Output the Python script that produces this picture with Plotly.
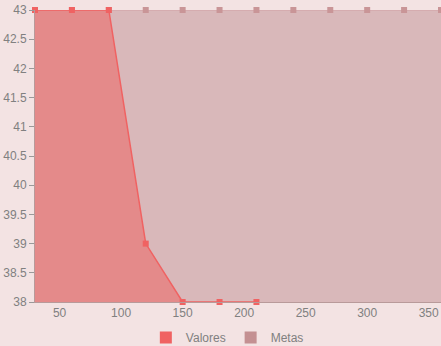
import plotly.graph_objects as go

x_valores = [30, 60, 90, 120, 150, 180, 210]
valores = [43, 43, 43, 39, 38, 38, 38]
x_metas = [30, 60, 90, 120, 150, 180, 210, 240, 270, 300, 330, 360]
metas = [43, 43, 43, 43, 43, 43, 43, 43, 43, 43, 43, 43]

fig = go.Figure()
fig.add_trace(go.Scatter(
    x=x_metas, y=metas, mode="lines+markers", fill="tozeroy",
    fillcolor="#d9b8ba", line=dict(color="#d3a9ab", width=1.5),
    marker=dict(symbol="square", size=6, color="#c99597"),
    showlegend=False, cliponaxis=False))
fig.add_trace(go.Scatter(
    x=x_valores, y=valores, mode="lines+markers", fill="tozeroy",
    fillcolor="#e48a8a", line=dict(color="#f06262", width=1.5),
    marker=dict(symbol="square", size=6, color="#f06262"),
    showlegend=False, cliponaxis=False))
fig.add_trace(go.Scatter(x=[None], y=[None], mode="markers", name="Valores",
                         marker=dict(symbol="square", size=14, color="#f06262")))
fig.add_trace(go.Scatter(x=[None], y=[None], mode="markers", name="Metas",
                         marker=dict(symbol="square", size=14, color="#c49092")))

fig.update_layout(
    width=441, height=346,
    margin=dict(l=35, r=0, t=10, b=44),
    paper_bgcolor="#f3e3e3", plot_bgcolor="#f3e3e3",
    font=dict(family="Liberation Sans", size=12, color="#808080"),
    showlegend=True,
    legend=dict(orientation="h", x=0.273, xanchor="left", xref="paper",
                y=0.0665, yanchor="top", yref="container",
                font=dict(size=12, color="#808080"), itemsizing="constant",
                itemwidth=30, bgcolor="rgba(0,0,0,0)"),
    xaxis=dict(range=[30, 360], tickvals=[50, 100, 150, 200, 250, 300, 350],
               showgrid=False, zeroline=False, showline=True, linecolor="#b89a9a",
               ticks="", automargin=False),
    yaxis=dict(range=[38, 43], dtick=0.5, showgrid=False, zeroline=False,
               showline=True, linecolor="#b89a9a", ticks="outside", ticklen=5,
               tickcolor="#999999", automargin=False),
)
fig.write_html("out.html", config={"displayModeBar": False},
               post_script="document.body.style.margin='0';document.body.style.background='#f3e3e3';")
